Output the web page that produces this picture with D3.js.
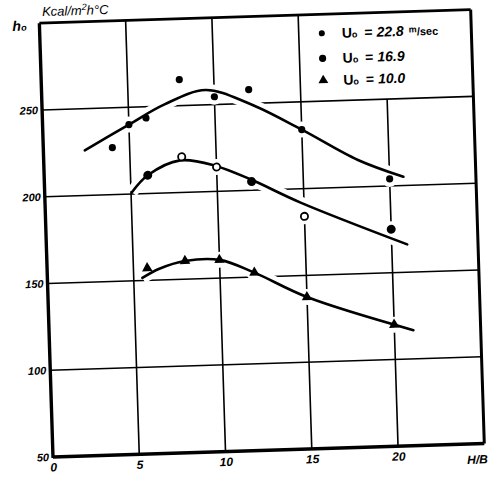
<!DOCTYPE html>
<html><head><meta charset="utf-8">
<script src="https://cdn.jsdelivr.net/npm/d3@7"></script>
<style>html,body{margin:0;padding:0;background:#fff;} svg{display:block;}</style>
</head><body>
<script>
// ---- data ----
const xTicks = [0, 5, 10, 15, 20];
const yTicks = [50, 100, 150, 200, 250];
const xTickLabels = ["0", "5", "10", "15", "20"];
const yTickLabels = ["50", "100", "150", "200", "250"];

// Uo = 22.8 m/sec (small solid dots)
const s1x = [4, 5, 6, 8, 10, 12, 15, 20];
const s1y = [227, 240, 243.5, 265, 254.5, 258, 234, 204];
// Uo = 16.9 (circles, some open)
const s2x = [6, 8, 10, 12, 15, 20];
const s2y = [210.5, 220.5, 214, 205, 184, 175];
const s2filled = [true, false, false, true, false, true];
// Uo = 10.0 (triangles)
const s3x = [5.8, 8, 10, 12, 15, 20];
const s3y = [157, 160.5, 160.5, 152.5, 137.5, 120];

// hand-drawn fitted curves
const c1x = [2.4, 5, 7.1, 9.5, 12, 15, 18.2, 20.8];
const c1y = [226, 240, 251, 258.5, 250, 234, 215.5, 205];
const c2x = [5.05, 6, 7.9, 10, 12, 14.8, 20.9];
const c2y = [201, 210.5, 218.5, 214.5, 206, 192, 166];
const c3x = [5.5, 6.5, 8, 10, 12, 15, 21.1];
const c3y = [151.5, 156.5, 160.5, 160.5, 152.5, 137.5, 116.5];

const legendLabels = ["22.8", "16.9", "10.0"];

// ---- drawing ----
const W = 491, H = 478;
const x0 = 53, y0 = 457;
const x = d3.scaleLinear([0, 25], [x0, x0 + 431.5]);
const y = d3.scaleLinear([50, 300], [y0, y0 - 434]);

const svg = d3.select("body").append("svg").attr("width", W).attr("height", H);
const g = svg.append("g").attr("transform", `rotate(-1.8,${x0},${y0})`);
const font = "'Liberation Sans', Arial, sans-serif";

// grid
const grid = g.append("g").attr("stroke", "#000").attr("stroke-width", 1.6);
yTicks.slice(1).forEach(v => grid.append("line")
  .attr("x1", x(0)).attr("x2", x(25)).attr("y1", y(v)).attr("y2", y(v)));
xTicks.slice(1).forEach(v => grid.append("line")
  .attr("x1", x(v)).attr("x2", x(v)).attr("y1", y(50)).attr("y2", y(v > 15 ? 250 : 300)));

const line = d3.line().x(d => x(d[0])).y(d => y(d[1])).curve(d3.curveCatmullRom.alpha(0.5));
const curves = [d3.zip(c1x, c1y), d3.zip(c2x, c2y), d3.zip(c3x, c3y)];
const pts1 = d3.zip(s1x, s1y), pts2 = d3.zip(s2x, s2y), pts3 = d3.zip(s3x, s3y);
const allPts = pts1.concat(pts2, pts3);

// marker halos
g.append("g").selectAll("circle").data(allPts).join("circle")
  .attr("cx", d => x(d[0])).attr("cy", d => y(d[1])).attr("r", 8).attr("fill", "#fff");
// curve halos
g.append("g").selectAll("path").data(curves).join("path")
  .attr("d", line).attr("fill", "none").attr("stroke", "#fff").attr("stroke-width", 12);
// curves
g.append("g").selectAll("path").data(curves).join("path")
  .attr("d", line).attr("fill", "none").attr("stroke", "#000").attr("stroke-width", 2.6)
  .attr("stroke-linecap", "round");

// markers
g.append("g").selectAll("circle").data(pts1).join("circle")
  .attr("cx", d => x(d[0])).attr("cy", d => y(d[1])).attr("r", 3.6).attr("fill", "#000");
g.append("g").selectAll("circle").data(pts2).join("circle")
  .attr("cx", d => x(d[0])).attr("cy", d => y(d[1])).attr("r", 3.6)
  .attr("fill", (d, i) => s2filled[i] ? "#000" : "#fff")
  .attr("stroke", "#000").attr("stroke-width", 1.8);
const tri = d3.symbol().type(d3.symbolTriangle).size(48);
g.append("g").selectAll("path").data(pts3).join("path")
  .attr("transform", d => `translate(${x(d[0])},${y(d[1])})`).attr("d", tri).attr("fill", "#000");

// borders
const border = g.append("g").attr("stroke", "#000").attr("fill", "none");
border.append("line").attr("x1", x(0)).attr("x2", x(0)).attr("y1", y(50) + 1).attr("y2", y(300)).attr("stroke-width", 3.4);
border.append("line").attr("x1", x(0)).attr("x2", x(25)).attr("y1", y(50)).attr("y2", y(50)).attr("stroke-width", 3.4);
border.append("line").attr("x1", x(0)).attr("x2", x(25)).attr("y1", y(300)).attr("y2", y(300)).attr("stroke-width", 2.8);
border.append("line").attr("x1", x(25)).attr("x2", x(25)).attr("y1", y(300)).attr("y2", y(50)).attr("stroke-width", 3);

// axes (labels)
const xAxis = g.append("g").attr("transform", `translate(0,${y(50)})`)
  .call(d3.axisBottom(x).tickValues(xTicks).tickFormat((d, i) => xTickLabels[i]).tickSize(0).tickPadding(6));
const yAxis = g.append("g").attr("transform", `translate(${x(0)},0)`)
  .call(d3.axisLeft(y).tickValues(yTicks).tickFormat((d, i) => yTickLabels[i]).tickSize(0).tickPadding(4));
[xAxis, yAxis].forEach(a => {
  a.select(".domain").remove();
  a.selectAll("text").attr("font-family", font).attr("font-size", 11)
    .attr("font-weight", "bold").attr("font-style", "italic").attr("fill", "#000");
});
xAxis.selectAll("text").attr("font-size", 12);

// axis titles
const t = g.append("g").attr("font-family", font).attr("font-weight", "bold")
  .attr("font-style", "italic").attr("fill", "#000");
t.append("text").attr("x", x(25) + 3).attr("y", y(50) + 20).attr("font-size", 12)
  .attr("text-anchor", "end").text("H/B");
const ht = t.append("text").attr("x", x(0) - 27).attr("y", y(300) + 7).attr("font-size", 14);
ht.append("tspan").text("h");
ht.append("tspan").attr("font-size", 9).text("o");
const ut = t.append("text").attr("x", x(0) + 3).attr("y", y(300) - 7).attr("font-size", 13).attr("font-weight", "normal");
ut.append("tspan").text("Kcal/m");
ut.append("tspan").attr("font-size", 9).attr("dy", -5).text("2");
ut.append("tspan").attr("dy", 5).text("h°C");

// legend
const lg = g.append("g").attr("font-family", font).attr("font-weight", "bold").attr("fill", "#000");
const rowsY = [42, 67, 89];
rowsY.forEach((ry, i) => {
  const mx = 335;
  if (i === 0) lg.append("circle").attr("cx", mx).attr("cy", ry).attr("r", 3);
  if (i === 1) lg.append("circle").attr("cx", mx).attr("cy", ry).attr("r", 3.6);
  if (i === 2) lg.append("path").attr("transform", `translate(${mx},${ry})`).attr("d", d3.symbol().type(d3.symbolTriangle).size(42)());
  const tx = lg.append("text").attr("x", mx + 20).attr("y", ry + 5).attr("font-size", 14);
  tx.append("tspan").text("U");
  tx.append("tspan").attr("font-size", 9).text("o");
  tx.append("tspan").attr("dx", 7).text("= ");
  tx.append("tspan").attr("font-style", "italic").text(legendLabels[i]);
  if (i === 0) {
    tx.append("tspan").attr("dx", 5).attr("font-size", 9).attr("dy", -3).text("m");
    tx.append("tspan").attr("font-size", 11).attr("dy", 3).text("/sec");
  }
});
</script>
</body></html>
